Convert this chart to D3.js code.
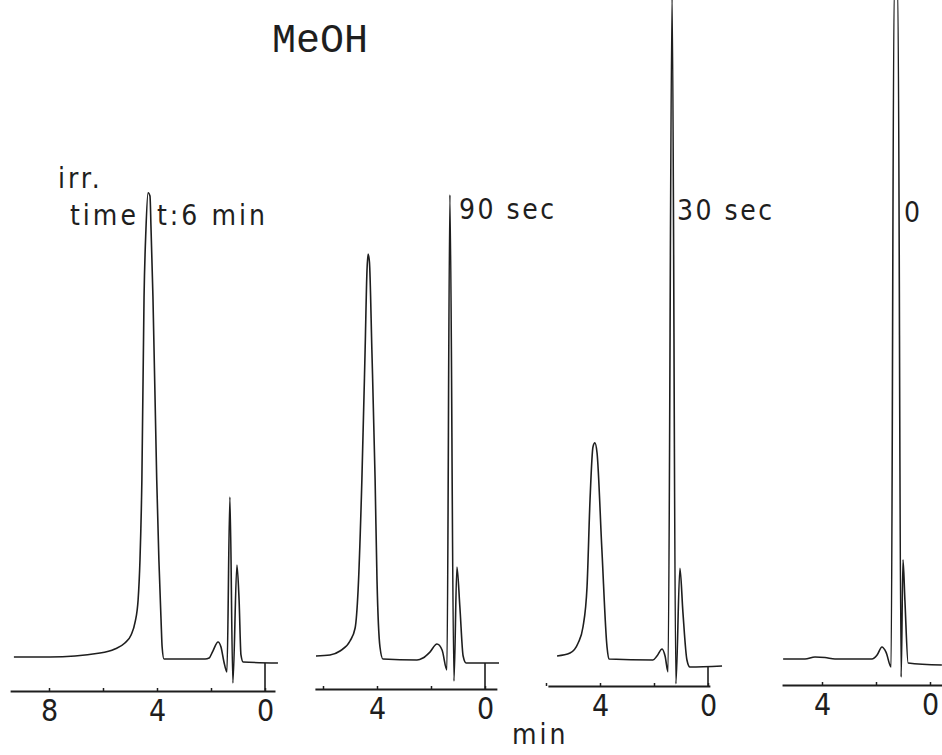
<!DOCTYPE html>
<html>
<head>
<meta charset="utf-8">
<script src="https://cdn.jsdelivr.net/npm/d3@7/dist/d3.min.js"></script>
<style>
  html, body { margin: 0; padding: 0; background: #fff; }
  svg { display: block; }
</style>
</head>
<body>
<svg id="chart" width="942" height="755"></svg>
<script>
// Irradiation time of each run
const irrTimes = ["6 min", "90 sec", "30 sec", "0"];

// Chromatograms: [retention time (min), detector signal (a.u.)]
const run6min = [
  [9.30, 0.45], [7.96, 0.45], [6.11, 1.06], [5.56, 1.67], [5.19, 2.58], [4.96, 3.79],
  [4.81, 5.76], [4.70, 9.09], [4.63, 15.2], [4.56, 27.3], [4.48, 55.0], [4.41, 65.2],
  [4.33, 70.8], [4.26, 70.3], [4.22, 65.2], [4.15, 55.0], [4.01, 27.3], [3.93, 15.2],
  [3.85, 6.06], [3.81, 1.97], [3.74, 0.15], [2.22, 0.15], [2.07, 0.30], [1.93, 1.36],
  [1.74, 2.73], [1.63, 1.97], [1.52, -0.30], [1.41, -1.82], [1.30, 24.7], [1.19, -3.48],
  [1.04, 14.4], [0.96, 9.1], [0.89, 0.76], [0.81, -0.30], [-0.48, -0.45]
];
const run90sec = [
  [6.26, 0.61], [5.74, 0.76], [5.37, 1.36], [5.00, 2.88], [4.81, 4.85], [4.70, 10.6],
  [4.56, 27.3], [4.44, 47.0], [4.37, 59.1], [4.33, 61.5], [4.28, 60.3], [4.19, 47.0],
  [4.07, 27.3], [4.00, 12.1], [3.89, 1.97], [3.78, 0.15], [2.52, 0.0], [2.30, 0.30],
  [2.04, 1.20], [1.78, 2.42], [1.59, 1.52], [1.41, -1.50], [1.30, 70.5], [1.15, -3.20],
  [1.04, 14.1], [0.93, 8.0], [0.81, 0.60], [0.70, -0.45], [-0.52, -0.45]
];
const run30sec = [
  [5.59, 0.61], [5.11, 1.06], [4.81, 2.58], [4.63, 5.0], [4.48, 11.1], [4.37, 24.2],
  [4.26, 32.3], [4.19, 32.9], [4.11, 31.4], [3.93, 16.7], [3.74, 1.97], [3.67, 0.15],
  [2.04, 0.0], [1.89, 0.60], [1.70, 1.67], [1.59, 0.60], [1.48, -1.80], [1.33, 101],
  [1.19, -3.60], [1.04, 13.9], [0.93, 7.3], [0.78, 0.0], [0.67, -1.06], [-0.52, -0.91]
];
const run0 = [
  [5.44, 0.15], [4.63, 0.15], [4.26, 0.45], [3.89, 0.38], [3.52, 0.15], [2.15, 0.15],
  [1.96, 0.76], [1.78, 1.97], [1.63, 1.20], [1.44, -1.06], [1.33, 101], [1.19, 101],
  [1.07, -2.60], [1.00, 15.2], [0.93, 9.1], [0.81, -0.45], [-0.44, -0.76]
];

// Time-axis ticks (min) and the ones carrying a label
const ticks6min = [8, 6, 4, 2, 0];
const ticks90sec = [6, 4, 2, 0];
const ticks30sec = [6, 4, 2, 0];
const ticks0 = [4, 2, 0];
const tickLabels6min = [8, 4, 0];
const tickLabels90sec = [4, 0];
const tickLabels30sec = [4, 0];
const tickLabels0 = [4, 0];

// Runs with an injection mark drawn down to the axis at t = 0
const injectionMark = [true, true, true, false];

const runs = [run6min, run90sec, run30sec, run0];
const tickSets = [ticks6min, ticks90sec, ticks30sec, ticks0];
const labelSets = [tickLabels6min, tickLabels90sec, tickLabels30sec, tickLabels0];

// Layout of the four recorder strips
const pxPerMin = 27;
const panels = [
  { zeroX: 265, axisY: 691, tLeft: 9.44, tRight: -0.37 },
  { zeroX: 485, axisY: 689, tLeft: 6.30, tRight: -0.44 },
  { zeroX: 708, axisY: 686, tLeft: 5.93, tRight: -0.07 },
  { zeroX: 930, axisY: 685, tLeft: 5.48, tRight: -0.44 }
];

const ink = "#1e1e1e";
const textFont = "'DejaVu Sans Condensed', 'DejaVu Sans', sans-serif";

const svg = d3.select("#chart");
svg.append("rect").attr("width", 942).attr("height", 755).attr("fill", "#fff");

// Common signal scale for all strips
const y = d3.scaleLinear().domain([0, 100]).range([660, 0]);

panels.forEach((p, i) => {
  const x = d3.scaleLinear()
    .domain([p.tLeft, p.tRight])
    .range([p.zeroX - p.tLeft * pxPerMin, p.zeroX - p.tRight * pxPerMin]);

  const g = svg.append("g");

  // chromatogram trace
  const line = d3.line()
    .x(d => x(d[0]))
    .y(d => y(d[1]))
    .curve(d3.curveMonotoneX);
  g.append("path")
    .datum(runs[i])
    .attr("d", line)
    .attr("fill", "none")
    .attr("stroke", ink)
    .attr("stroke-width", 1.6)
    .attr("stroke-linejoin", "round");

  // time axis
  const labels = labelSets[i];
  const axis = d3.axisBottom(x)
    .tickValues(tickSets[i])
    .tickSizeInner(-3)
    .tickSizeOuter(0)
    .tickPadding(8)
    .tickFormat(d => labels.includes(d) ? String(d) : "");
  const ax = g.append("g")
    .attr("transform", `translate(0,${p.axisY})`)
    .call(axis);
  ax.select(".domain").attr("stroke", ink).attr("stroke-width", 1.8);
  ax.selectAll(".tick line").attr("stroke", ink).attr("stroke-width", 1.5);
  ax.selectAll(".tick text")
    .attr("fill", ink)
    .attr("font-family", textFont)
    .attr("font-size", 30)
    .attr("dy", "0.72em");

  // injection mark from the baseline down to the axis
  if (injectionMark[i]) {
    const last = runs[i][runs[i].length - 1];
    g.append("line")
      .attr("x1", x(0)).attr("x2", x(0))
      .attr("y1", y(last[1])).attr("y2", p.axisY)
      .attr("stroke", ink).attr("stroke-width", 1.6);
  }
});

// Labels
const label = (txt, x0, y0, size, spacing) =>
  svg.append("text")
    .attr("x", x0).attr("y", y0)
    .attr("font-family", textFont)
    .attr("font-size", size)
    .attr("letter-spacing", spacing)
    .attr("fill", ink)
    .text(txt);

svg.append("text")
  .attr("x", 272).attr("y", 52)
  .attr("font-family", "'Liberation Mono', 'DejaVu Sans Mono', monospace")
  .attr("font-size", 40)
  .attr("fill", ink)
  .text("MeOH");

label("irr.", 58, 188, 28, 3);
label("time", 70, 225, 28, 3);
label("t:" + irrTimes[0], 157, 225, 28, 3);
label(irrTimes[1], 459, 219, 28, 2.5);
label(irrTimes[2], 677, 220, 28, 2.5);
label(irrTimes[3], 904, 222, 28, 2.5);
label("min", 512, 744, 28, 3);
</script>
</body>
</html>
